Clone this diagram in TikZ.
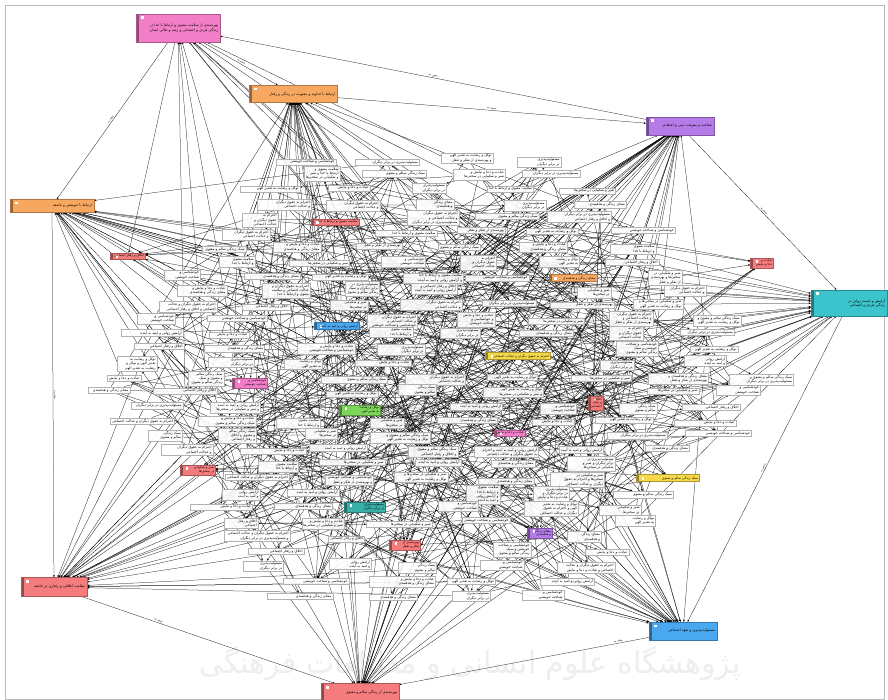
\documentclass[tikz,border=0pt]{standalone}
\usepackage{fontspec}
\newfontfamily\fa[Script=Arabic]{DejaVu Sans}
\TeXXeTstate=1
\usetikzlibrary{arrows.meta,backgrounds}
\definecolor{hubpink}{HTML}{F27EC8}
\definecolor{hubor}{HTML}{F7A860}
\definecolor{hubpur}{HTML}{B57BE8}
\definecolor{hubcy}{HTML}{3CC4CC}
\definecolor{hubred}{HTML}{F47C7C}
\definecolor{hubblue}{HTML}{4AA8F0}
\definecolor{hubyel}{HTML}{F5D94A}
\definecolor{hubgreen}{HTML}{7CD65A}
\definecolor{hubteal}{HTML}{38B0A8}
\newcount\nbox
\newcommand\phr[1]{\ifcase#1 سلامت معنوی و ارتباط با خدا\or توکل و رضایت به تقدیر الهی\or آرامش روانی و امید به آینده\or اخلاق و رفتار اجتماعی\or مسئولیت‌پذیری در برابر دیگران\or خودشناسی و شناخت خویشتن\or معنای زندگی و هدفمندی\or عبادت و دعا و نیایش\or صبر و شکیبایی در سختی‌ها\or احترام به حقوق دیگران و عدالت اجتماعی\or بهره‌مندی از تفکر و تعقل\or سبک زندگی سالم و معنوی\fi}
\def\clist{335/222/45, 128/256/32, 573/278/45, 762/263/20, 337/326/42, 250/383/32, 360/410/38, 518/356/62, 510/433/28, 596/403/12, 198/470/32, 668/478/60, 365/507/38, 405/545/28, 540/533/22}
\tikzset{
 wbox/.style={draw=gray!60, fill=white, fill opacity=0.9, text opacity=1, line width=0.3pt, inner sep=1.3pt, font=\fa\fontsize{3.5}{4.3}\selectfont, align=right},
 hub/.style={draw=#1!70!black, fill=#1, line width=0.4pt, inner sep=2pt, font=\fa\fontsize{3.6}{4.4}\selectfont, align=right,
   path picture={\fill[#1!60!black] (path picture bounding box.north west) rectangle ([xshift=2.5pt]path picture bounding box.south west);
                 \fill[white] ([xshift=5pt,yshift=-2.5pt]path picture bounding box.north west) rectangle ++(2.5pt,-2.5pt);}},
 lnk/.style={line width=0.25pt, -{Stealth[length=2.2pt,width=1.8pt]}},
 elab/.style={font=\fa\fontsize{2.8}{3}\selectfont, sloped, above, inner sep=0.6pt},
}
\begin{document}
\begin{tikzpicture}[x=1pt,y=-1pt]
\useasboundingbox (0,0) rectangle (888,700);

% hubs
\node[hub=hubpink, text width=80pt, minimum height=28pt] (pinkT) at (178,28) {\beginR بهره‌مندی از سلامت معنوی و ارتباط با خدا در زندگی فردی و اجتماعی و رشد و تعالی انسان\endR};
\node[hub=hubor, text width=84pt, minimum height=17pt] (orgT) at (293,94) {\beginR ارتباط با خداوند و معنویت در زندگی و رفتار\endR};
\node[hub=hubpur, text width=64pt, minimum height=18pt] (purp) at (680,126) {\beginR شناخت و معرفت دینی و اعتقادی\endR};
\node[hub=hubor, text width=80pt, minimum height=13pt] (orgL) at (52,206) {\beginR ارتباط با خویشتن و جامعه\endR};
\node[hub=hubcy, text width=72pt, minimum height=26pt] (cyan) at (849,303) {\beginR آرامش و امنیت روانی در زندگی فردی و اجتماعی\endR};
\node[hub=hubred, text width=62pt, minimum height=19pt] (redBL) at (54,587) {\beginR سلامت اخلاقی و رفتاری در جامعه\endR};
\node[hub=hubblue, text width=64pt, minimum height=18pt] (blueBR) at (683,631) {\beginR مسئولیت‌پذیری و تعهد اجتماعی\endR};
\node[hub=hubred, text width=74pt, minimum height=17pt] (redB) at (360,692) {\beginR بهره‌مندی از زندگی سالم و معنوی\endR};

% white boxes on a jittered grid, skipping the coloured nodes
\pgfmathsetseed{1234}
\foreach \r in {0,...,30}{
  \pgfmathsetmacro\yy{160+14.5*\r}
  \pgfmathsetmacro\hw{372*(1-0.5*abs(\yy-378)/218)}
  \pgfmathtruncatemacro\nc{floor(2*\hw/80)}
  \pgfmathsetmacro\off{432-\hw+(2*\hw-\nc*80)/2+40+mod(\r,2)*14-7}
  \foreach \cc in {1,...,\nc}{
    \pgfmathsetmacro\bx{\off+(\cc-1)*80+random(-8,8)}
    \pgfmathsetmacro\by{\yy+random(-2,2)}
    \pgfmathtruncatemacro\t{random(0,11)}
    \pgfmathtruncatemacro\tb{random(0,11)}
    \pgfmathtruncatemacro\two{rnd<0.3}
    \pgfmathtruncatemacro\w{random(30,64)}
    \gdef\okflag{1}
    \foreach \qx/\qy/\qw in \clist {
      \pgfmathtruncatemacro\hit{(abs(\bx-\qx)<(\qw+\w)/2+8)&&(abs(\by-\qy)<13)}
      \ifnum\hit=1 \gdef\okflag{0}\fi
    }
    \ifnum\okflag=1
      \global\advance\nbox by 1
      \edef\nm{b\the\nbox}
      \ifnum\two=1
        \node[wbox, text width=\w pt] (\nm) at (\bx,\by) {\beginR\phr{\t} و \phr{\tb}\endR};
      \else
        \node[wbox, text width=\w pt] (\nm) at (\bx,\by) {\beginR\phr{\t}\endR};
      \fi
    \fi
  }
}
\edef\NB{\the\nbox}

% inner colored nodes
\foreach \x/\y/\w/\c/\t [count=\i] in {335/222/45/hubred/0, 128/256/32/hubred/3, 573/278/45/hubor/6, 762/263/20/hubred/7, 337/326/42/hubblue/2, 250/383/32/hubpink/5, 360/410/38/hubgreen/1, 518/356/62/hubyel/9, 510/433/28/hubpink/7, 596/403/12/hubred/3, 198/470/32/hubred/8, 668/478/60/hubyel/11, 365/507/38/hubteal/4, 405/545/28/hubred/10, 540/533/22/hubpur/6}{
  \node[hub=\c, text width=\w pt, inner sep=1.5pt, font=\fa\fontsize{3.2}{3.9}\selectfont] (c\i) at (\x,\y) {\beginR\phr{\t}\endR};
}

\begin{scope}[on background layer]
\fill[white] (0,0) rectangle (888,700);
\draw[gray!55, line width=0.4pt] (5,5) rectangle (884,699);
\node[gray!13, font=\fa\fontsize{30}{32}\selectfont] (wm) at (470,664) {\beginR پژوهشگاه علوم انسانی و مطالعات فرهنگی\endR};
\foreach \k in {1,...,300}{
  \pgfmathtruncatemacro\a{random(1,\NB)}
  \pgfmathtruncatemacro\b{mod(\a+random(1,\NB-1)-1,\NB)+1}
  \draw[lnk] (b\a) -- (b\b);
}
\foreach \h/\n in {pinkT/10, orgT/32, purp/30, orgL/26, cyan/24, redBL/26, blueBR/24, redB/26}{
  \foreach \k in {1,...,\n}{
    \pgfmathtruncatemacro\a{random(1,\NB)}
    \draw[lnk] (b\a) -- (\h);
  }
}
\foreach \i in {1,...,15}{
  \foreach \k in {1,...,7}{
    \pgfmathtruncatemacro\a{random(1,\NB)}
    \draw[lnk] (b\a) -- (c\i);
  }
}
\draw[lnk] (pinkT) -- node[elab]{\beginR منجر به\endR} (orgL);
\draw[lnk] (pinkT) -- node[elab]{\beginR منجر به\endR} (orgT);
\draw[lnk] (purp) -- node[elab]{\beginR منجر به\endR} (pinkT);
\draw[lnk] (orgT) -- node[elab]{\beginR منجر به\endR} (purp);
\draw[lnk] (purp) -- node[elab]{\beginR منجر به\endR} (cyan);
\draw[lnk] (cyan) -- node[elab]{\beginR منجر به\endR} (blueBR);
\draw[lnk] (orgL) -- node[elab]{\beginR منجر به\endR} (redBL);
\draw[lnk] (redBL) -- node[elab, pos=0.3]{\beginR منجر به\endR} (redB);
\draw[lnk] (blueBR) -- node[elab, pos=0.12]{\beginR منجر به\endR} (redB);
\draw[lnk] (pinkT) -- (c1);
\draw[lnk] (pinkT) -- (c2);
\draw[lnk] (orgT) -- (c5);
\end{scope}
\end{tikzpicture}
\end{document}
